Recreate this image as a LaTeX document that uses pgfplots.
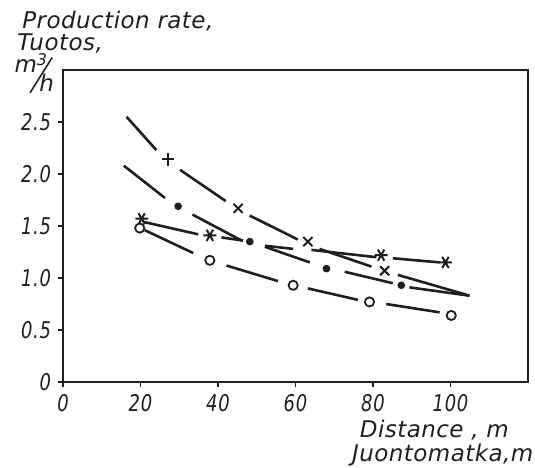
\documentclass[border=0pt]{standalone}
\usepackage{pgfplots}
\pgfplotsset{compat=1.18}
\usepackage{fontspec}
\newfontfamily\lf{DejaVu Sans Oblique}[LetterSpace=2]
\newfontfamily\tf{DejaVu Sans Oblique}[FakeStretch=0.78, LetterSpace=3]
\definecolor{ink}{gray}{0.12}
\tikzset{
  seg/.style={ink, line width=1.3pt},
  lbl/.style={anchor=base west, inner sep=0pt, font=\lf\fontsize{11.5}{13}\selectfont, text=ink},
}
\begin{document}
\begin{tikzpicture}
\useasboundingbox (-31.5pt,-42.5pt) rectangle (236pt,191pt);
\begin{axis}[
  scale only axis, width=232.5pt, height=156pt,
  xmin=0, xmax=120, ymin=0, ymax=3,
  axis line style={line width=1.1pt, draw=ink},
  tick align=outside, xtick pos=bottom, ytick pos=left,
  major tick length=2.5pt,
  tick style={line width=0.9pt, draw=ink},
  xtick={0,20,40,60,80,100},
  xticklabels={0,20,40,60,80,100},
  ytick={0,0.5,1,1.5,2,2.5},
  yticklabels={0,0.5,1.0,1.5,2.0,2.5},
  ticklabel style={font=\tf\fontsize{11.5}{13}\selectfont, text=ink},
  /pgf/number format/assume math mode=true,
  clip=false,
]
% upper curve (+ / x)
\addplot[seg] coordinates {(16.4,2.55) (24.1,2.23)};
\addplot[seg] coordinates {(30.2,2.04) (42.0,1.74)};
\addplot[seg] coordinates {(48.2,1.60) (60.6,1.37)};
\addplot[seg] coordinates {(66.2,1.28) (79.6,1.11)};
\addplot[seg] coordinates {(86.4,1.03) (104.9,0.83)};
% dot curve
\addplot[seg] coordinates {(15.7,2.08) (26.3,1.77)};
\addplot[seg] coordinates {(33.4,1.61) (46.1,1.36)};
\addplot[seg] coordinates {(52.1,1.30) (63.7,1.15)};
\addplot[seg] coordinates {(72.7,1.06) (85.1,0.95)};
\addplot[seg] coordinates {(89.4,0.91) (104.9,0.83)};
% asterisk curve
\addplot[seg] coordinates {(20.7,1.54) (34.9,1.42)};
\addplot[seg] coordinates {(40.9,1.39) (46.5,1.36)};
\addplot[seg] coordinates {(52.1,1.31) (59.4,1.28)};
\addplot[seg] coordinates {(64.1,1.27) (80.9,1.20)};
\addplot[seg] coordinates {(85.1,1.19) (97.2,1.15)};
% circle curve
\addplot[seg] coordinates {(21.1,1.46) (33.6,1.24)};
\addplot[seg] coordinates {(42.2,1.12) (55.5,0.97)};
\addplot[seg] coordinates {(63.2,0.90) (76.1,0.79)};
\addplot[seg] coordinates {(83.4,0.75) (97.2,0.67)};
% markers
\addplot[only marks, mark=+, mark size=3.2pt, ink, mark options={line width=1pt}] coordinates {(27.1,2.14)};
\addplot[only marks, mark=x, mark size=3.2pt, ink, mark options={line width=1pt}] coordinates {(45.2,1.67) (63.2,1.35) (83.0,1.07)};
\addplot[only marks, mark=*, mark size=1.7pt, ink] coordinates {(29.7,1.69) (48.2,1.35) (68.0,1.09) (87.3,0.93)};
\addplot[only marks, mark=asterisk, mark size=3.2pt, ink, mark options={line width=1pt, rotate=90}] coordinates {(20.3,1.57) (37.9,1.41) (82.1,1.22) (98.7,1.15)};
\addplot[only marks, mark=*, mark size=2.3pt, ink, mark options={fill=white, draw=ink, line width=0.9pt}] coordinates {(19.8,1.48) (37.9,1.17) (59.4,0.93) (79.1,0.77) (100.2,0.64)};
% labels
\node[lbl] at (axis cs:-10.6,3.40) {Production rate,};
\node[lbl] at (axis cs:-11.9,3.19) {Tuotos,};
\node[lbl] at (axis cs:-12.6,2.98) {m\raisebox{3.2pt}{\fontsize{8}{8}\selectfont 3}};
\node[lbl] at (axis cs:-6.2,2.79) {h};
\draw[ink, line width=0.8pt] (axis cs:-8.5,2.78) -- (axis cs:-2.8,3.12);
\node[lbl] at (axis cs:76.5,-0.53) {Distance , m};
\node[lbl] at (axis cs:74.5,-0.76) {Juontomatka,m};
\end{axis}
\end{tikzpicture}
\end{document}
